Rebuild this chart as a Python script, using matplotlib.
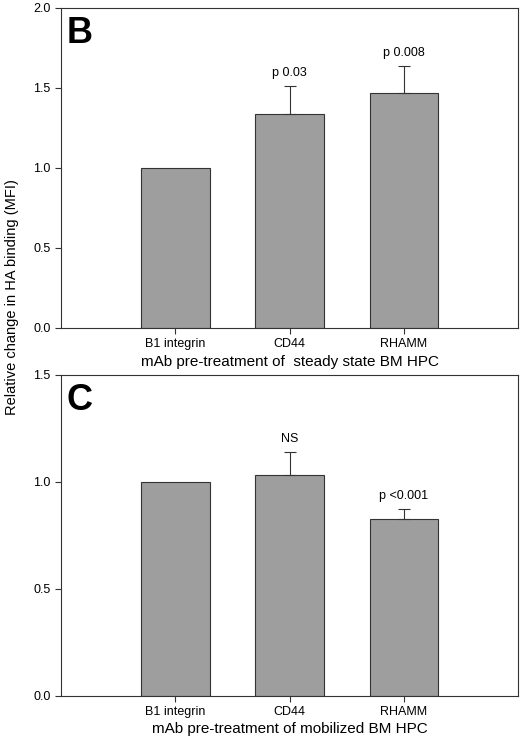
import matplotlib
matplotlib.use("Agg")
import matplotlib.pyplot as plt

plt.rcParams['font.family'] = ['Liberation Sans', 'DejaVu Sans']

categorias = ["B1 integrin", "CD44", "RHAMM"]

# painel B - steady state
valores_b = [1.0, 1.34, 1.47]
erros_b = [0.0, 0.17, 0.17]
rotulos_b = ["", "p 0.03", "p 0.008"]

# painel C - mobilized
valores_c = [1.0, 1.03, 0.825]
erros_c = [0.0, 0.11, 0.05]
rotulos_c = ["", "NS", "p <0.001"]

fig = plt.figure(figsize=(5.2, 7.38), dpi=100)
ax_b = fig.add_axes([0.1173, 0.5556, 0.879, 0.4336])
ax_c = fig.add_axes([0.1173, 0.0573, 0.879, 0.4346])


def painel(ax, valores, erros, rotulos, ymax, letra, xlabel):
    x = list(range(len(categorias)))
    ax.bar(x, valores, width=0.6, color='#9e9e9e', edgecolor='#333333', linewidth=0.8, zorder=2)
    for xi, v, e, r in zip(x, valores, erros, rotulos):
        if e > 0:
            ax.errorbar(xi, v, yerr=[[0], [e]], color='#333333', elinewidth=0.8,
                        capsize=4, capthick=0.8, zorder=3)
        if r:
            ax.annotate(r, (xi, v + e), xytext=(0, 5), textcoords='offset points',
                        ha='center', va='bottom', fontsize=9)
    ax.set_xlim(-1, 3)
    ax.set_ylim(0, ymax)
    ax.set_xticks(x)
    ax.set_xticklabels(categorias, fontsize=9)
    ticks = [i * 0.5 for i in range(int(ymax / 0.5) + 1)]
    ax.set_yticks(ticks)
    ax.set_yticklabels(["%.1f" % t for t in ticks], fontsize=9)
    ax.tick_params(direction='out', length=4, width=0.8, color='#333333')
    for s in ax.spines.values():
        s.set_linewidth(0.8)
        s.set_color('#333333')
    ax.set_xlabel(xlabel, fontsize=11, labelpad=3)
    ax.text(0.012, 0.975, letra, transform=ax.transAxes, fontsize=26,
            fontweight='bold', ha='left', va='top')


painel(ax_b, valores_b, erros_b, rotulos_b, 2.0, "B", "mAb pre-treatment of  steady state BM HPC")
painel(ax_c, valores_c, erros_c, rotulos_c, 1.5, "C", "mAb pre-treatment of mobilized BM HPC")

fig.text(0.023, 0.598, "Relative change in HA binding (MFI)", rotation=90,
         ha='center', va='center', fontsize=10.5)

fig.savefig("out.png", dpi=100)
